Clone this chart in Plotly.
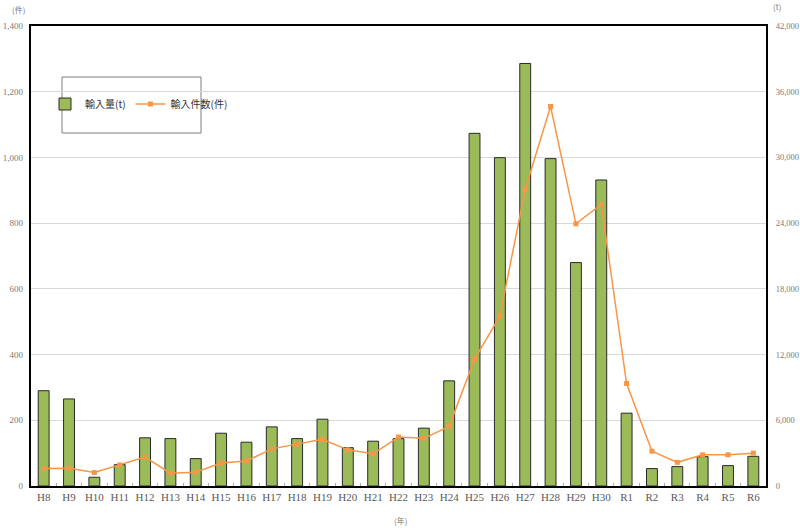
import plotly.graph_objects as go

categories = ["H8", "H9", "H10", "H11", "H12", "H13", "H14", "H15", "H16", "H17",
              "H18", "H19", "H20", "H21", "H22", "H23", "H24", "H25", "H26", "H27",
              "H28", "H29", "H30", "R1", "R2", "R3", "R4", "R5", "R6"]
volume_t = [8700, 7950, 800, 1950, 4400, 4330, 2500, 4820, 4000, 5400,
            4330, 6100, 3500, 4090, 4320, 5280, 9600, 32200, 29980, 38580,
            29890, 20400, 27940, 6650, 1590, 1770, 2680, 1860, 2710]
cases = [53, 54, 41, 64, 88, 39, 42, 70, 76, 113,
         127, 142, 110, 98, 149, 145, 181, 386, 517, 903,
         1155, 798, 857, 312, 106, 72, 95, 95, 100]

left_ticks = list(range(0, 1401, 200))
right_ticks = list(range(0, 42001, 6000))

SERIF = "Liberation Serif, Noto Sans CJK JP, serif"
XCOL = "#595959"
YCOL = "#7a7a7a"
FW, FH = 800, 531
L, R, T, B = 31, 766, 26, 486
PW, PH = R - L, B - T


def px_x(x):
    return (x - L) / PW


def px_y(y):
    return (B - y) / PH


fig = go.Figure()
fig.add_trace(go.Bar(
    x=categories, y=volume_t, name="輸入量(t)",
    marker=dict(color="#9BBB59", line=dict(color="#2a2a2a", width=1)),
    yaxis="y",
))
fig.add_trace(go.Scatter(
    x=categories, y=cases, name="輸入件数(件)", mode="lines+markers",
    line=dict(color="#F79646", width=1.5),
    marker=dict(symbol="square", size=5, color="#F79646"),
    yaxis="y2",
))

fig.update_layout(
    width=FW, height=FH,
    margin=dict(l=L, r=FW - R, t=T, b=FH - B, autoexpand=False),
    plot_bgcolor="white", paper_bgcolor="white",
    bargap=0.57,
    showlegend=True,
    legend=dict(orientation="h", x=px_x(45), y=px_y(104), xanchor="left", yanchor="middle",
                font=dict(family="Noto Sans CJK JP, sans-serif", size=10, color="#333333"),
                bgcolor="rgba(0,0,0,0)", itemwidth=30, tracegroupgap=0),
    xaxis=dict(
        range=[-0.5, len(categories) - 0.5],
        tickfont=dict(family=SERIF, size=11, color=XCOL), tickangle=0,
        showline=True, linecolor="black", linewidth=2, mirror=True,
        ticks="inside", ticklen=3, tickcolor="#aaaaaa", tickson="boundaries",
        showgrid=False, automargin=False,
    ),
    yaxis=dict(
        side="right", range=[0, 42000], tickvals=right_ticks,
        tickformat=",", tickfont=dict(family=SERIF, size=8.5, color=YCOL),
        showgrid=True, gridcolor="#d9d9d9", gridwidth=1,
        showline=True, linecolor="black", linewidth=2, mirror=True,
        ticks="", ticklabelstandoff=6, zeroline=False, automargin=False,
    ),
    yaxis2=dict(
        overlaying="y", side="left", range=[0, 1400], tickvals=left_ticks,
        tickformat=",", tickfont=dict(family=SERIF, size=9, color=YCOL),
        showgrid=False, showline=False, ticks="", ticklabelstandoff=7,
        zeroline=False, automargin=False,
    ),
    shapes=[dict(type="rect", xref="paper", yref="paper",
                 x0=px_x(62), x1=px_x(201), y0=px_y(133), y1=px_y(77),
                 line=dict(color="#7f7f7f", width=1), fillcolor="white", layer="below")],
)

for text, x, y in [("(件)", 18, 9), ("(t)", 777, 7), ("(年)", 400, 520)]:
    fig.add_annotation(text=text, showarrow=False, xref="paper", yref="paper",
                       x=px_x(x), y=px_y(y), xanchor="center", yanchor="middle",
                       font=dict(family="Noto Sans CJK JP, serif", size=8, color=YCOL))

fig.write_html("out.html", config={"displayModeBar": False},
               post_script="document.body.style.margin='0px';document.body.style.overflow='hidden';")
